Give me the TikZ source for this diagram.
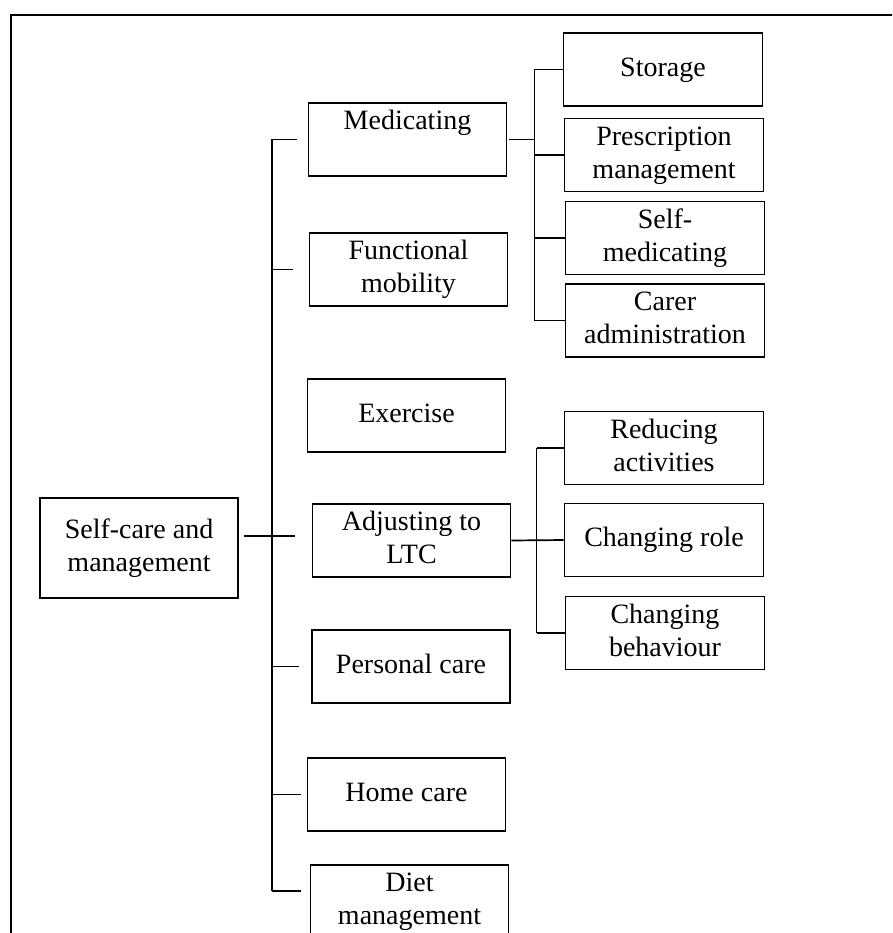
\documentclass[tikz,border=0pt]{standalone}
\usepackage{fontspec}
\setmainfont{Liberation Serif}
\begin{document}
\begin{tikzpicture}[x=1pt,y=-1pt,
  box/.style={draw, line width=1.7pt, minimum width=198pt, minimum height=73pt,
    inner sep=0pt, align=center, font=\fontsize{28}{33}\selectfont},
  link/.style={line width=1.7pt},
  frame/.style={line width=1.8pt}]
\useasboundingbox (0,0) rectangle (892,933);
\clip (0,0) rectangle (892,933);

% outer frame (open at right and bottom)
\draw[frame] (11,960) -- (11,15) -- (910,15);

% root
\node[box, minimum height=100pt] (root) at (139,548) {\strut Self-care and\\\strut management};

% first level
\node[box] (med) at (407.5,139.5) {\strut Medicating\\\strut};
\node[box] (fun) at (408.5,269.5) {\strut Functional\\\strut mobility};
\node[box] (exe) at (406.5,415.5) {\strut Exercise};
\node[box] (adj) at (411.5,540.5) {\strut Adjusting to\\\strut LTC};
\node[box] (per) at (411,666.5) {\strut Personal care};
\node[box] (hom) at (406.5,794.5) {\strut Home care};
\node[box] (die) at (409.5,901.5) {\strut Diet\\\strut management};

% medicating subtopics
\node[box, minimum width=199pt] (sto) at (663,69.5) {\strut Storage};
\node[box, minimum width=199pt] (pre) at (664,155) {\strut Prescription\\\strut management};
\node[box, minimum width=199pt] (sel) at (665,238) {\strut Self-\\\strut medicating};
\node[box, minimum width=199pt] (car) at (665,320.5) {\strut Carer\\\strut administration};

% adjusting subtopics
\node[box, minimum width=199pt] (red) at (664,448) {\strut Reducing\\\strut activities};
\node[box, minimum width=199pt] (rol) at (664,540) {\strut Changing role};
\node[box, minimum width=199pt] (beh) at (665,633) {\strut Changing\\\strut behaviour};

% trunk lines
\coordinate (trunk) at (272,0);
\coordinate (subA) at (534.5,0);
\coordinate (subB) at (536.5,0);
\coordinate (adjin) at (295,536);
\coordinate (diejoin) at ([xshift=-9pt,yshift=10.5pt]die.west);

\draw[link] (trunk |- med.west) -- (trunk |- diejoin);
\draw[link] (trunk |- med.west) -- ([xshift=-11pt]med.west);
\draw[link] (trunk |- fun.west) -- ([xshift=-16pt]fun.west);
\draw[link] ([xshift=5pt,yshift=12pt]root.east) -- (adjin);
\draw[link] (trunk |- per.west) -- ([xshift=-12pt]per.west);
\draw[link] (trunk |- hom.west) -- ([xshift=-6pt]hom.west);
\draw[link] (trunk |- diejoin) -- (diejoin);

% medicating branch
\draw[link] ([xshift=2pt]med.east) -- (subA |- med.east);
\draw[link] (subA |- sto.west) -- (subA |- car.west);
\draw[link] (subA |- sto.west) -- (sto.west);
\draw[link] (subA |- pre.west) -- (pre.west);
\draw[link] (subA |- sel.west) -- (sel.west);
\draw[link] (subA |- car.west) -- (car.west);

% adjusting branch
\draw[link] (adj.east) -- (rol.west);
\draw[link] (subB |- red.west) -- (subB |- beh.west);
\draw[link] (subB |- red.west) -- (red.west);
\draw[link] (subB |- beh.west) -- (beh.west);
\end{tikzpicture}
\end{document}
